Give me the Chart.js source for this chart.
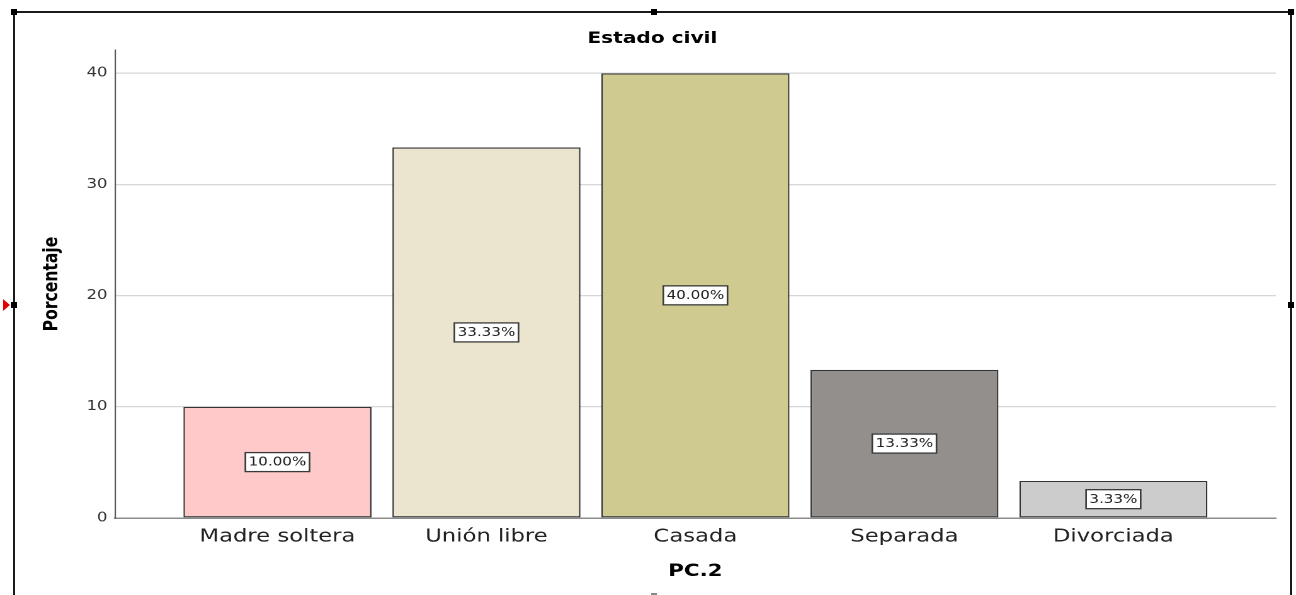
<!DOCTYPE html>
<html><head><meta charset="utf-8">
<script src="https://cdn.jsdelivr.net/npm/chart.js@4.4.1/dist/chart.umd.min.js"></script>
<style>
html,body{margin:0;padding:0;background:#fff;width:1296px;height:595px;overflow:hidden;}
#wrap{position:absolute;left:0;top:0;width:1029px;height:595px;transform:scaleX(1.259475);transform-origin:0 0;}
.ln{position:absolute;background:#1a1a1a;}
.hd{position:absolute;width:6px;height:6px;background:#000;}
</style></head><body>
<div id="wrap"><canvas id="c"></canvas></div>
<div class="ln" style="left:13px;top:11px;width:1279px;height:1.5px"></div>
<div class="ln" style="left:13px;top:11px;width:1.5px;height:590px"></div>
<div class="ln" style="left:1290px;top:11px;width:1.5px;height:590px"></div>
<div class="hd" style="left:11px;top:9px"></div>
<div class="hd" style="left:651px;top:9px"></div>
<div class="hd" style="left:1288px;top:9px"></div>
<div class="hd" style="left:11px;top:302px"></div>
<div class="hd" style="left:1288px;top:302px"></div>
<div style="position:absolute;left:3px;top:299px;width:0;height:0;border-top:6px solid transparent;border-bottom:6px solid transparent;border-left:7px solid #e00000;"></div>
<div style="position:absolute;left:651px;top:593px;width:6px;height:1.5px;background:#888;"></div>
<script>
const chartTitle = 'Estado civil';
const xAxisTitle = 'PC.2';
const yAxisTitle = 'Porcentaje';
const categories = ['Madre soltera', 'Unión libre', 'Casada', 'Separada', 'Divorciada'];
const percentages = [10.00, 33.33, 40.00, 13.33, 3.33];
const barColors = ['#ffc9c9', '#ebe5d0', '#cfca8f', '#928f8d', '#cccccc'];
const yTicks = [0, 10, 20, 30, 40];

const labelPlugin = {
  id: 'barLabels',
  afterDatasetsDraw(chart) {
    const ctx = chart.ctx;
    const meta = chart.getDatasetMeta(0);
    ctx.save();
    ctx.font = '12px "DejaVu Sans"';
    ctx.textAlign = 'center';
    ctx.textBaseline = 'middle';
    meta.data.forEach((el, i) => {
      const txt = percentages[i].toFixed(2) + '%';
      const w = ctx.measureText(txt).width;
      const cx = el.x;
      const cy = (el.y + el.base) / 2;
      ctx.fillStyle = '#ffffff';
      ctx.fillRect(cx - w / 2 - 2.6, cy - 9.5, w + 5.2, 19);
      ctx.strokeStyle = '#3a3a3a';
      ctx.lineWidth = 1.3;
      ctx.strokeRect(cx - w / 2 - 2.6, cy - 9.5, w + 5.2, 19);
      ctx.fillStyle = '#222';
      ctx.fillText(txt, cx, cy + 0.5);
    });
    ctx.restore();
  }
};

new Chart(document.getElementById('c'), {
  type: 'bar',
  data: {
    datasets: [{
      data: percentages.map((v, i) => ({x: i, y: v})),
      backgroundColor: barColors,
      borderColor: '#333333',
      borderWidth: 1.2,
      borderSkipped: false,
      barPercentage: 0.9,
      categoryPercentage: 1.0
    }]
  },
  options: {
    responsive: true,
    maintainAspectRatio: false,
    devicePixelRatio: 2,
    animation: false,
    layout: {padding: {left: 23, right: 16, top: 0, bottom: 0}},
    plugins: {
      legend: {display: false},
      tooltip: {enabled: false},
      title: {
        display: true,
        text: chartTitle,
        color: '#000',
        font: {family: '"DejaVu Sans"', size: 16, weight: 'bold'},
        padding: {top: 29, bottom: 1.8}
      }
    },
    scales: {
      x: {
        type: 'linear',
        offset: false,
        min: -0.7775,
        max: 4.7775,
        grid: {display: false, drawTicks: false, offset: false},
        border: {display: true, color: '#8c8c8c', width: 1.5},
        afterFit(s) { s.height = 77; },
        ticks: {
          stepSize: 1,
          includeBounds: false,
          autoSkip: false,
          maxRotation: 0,
          padding: 8,
          color: '#222',
          font: {family: '"DejaVu Sans"', size: 18},
          callback: (v) => categories[v] !== undefined && Number.isInteger(v) ? categories[v] : ''
        },
        title: {
          display: true,
          text: xAxisTitle,
          color: '#000',
          font: {family: '"DejaVu Sans"', size: 17, weight: 'bold'},
          padding: {top: 0, bottom: 13.3}
        }
      },
      y: {
        min: 0,
        max: 42.1,
        grid: {color: '#d6d6d6', lineWidth: 1.3, drawTicks: false},
        border: {display: true, color: '#5a5a5a', width: 1.1},
        afterFit(s) { s.width = 68.3; },
        afterBuildTicks(s) { s.ticks = yTicks.map(v => ({value: v})); },
        ticks: {
          padding: 6,
          color: '#333',
          font: {family: '"DejaVu Sans"', size: 13}
        },
        title: {
          display: true,
          text: yAxisTitle,
          color: '#000',
          font: {family: '"DejaVu Sans"', size: 15.6, weight: 'bold'},
          padding: {top: 9.3, bottom: 0}
        }
      }
    }
  },
  plugins: [labelPlugin]
});
</script>
</body></html>
